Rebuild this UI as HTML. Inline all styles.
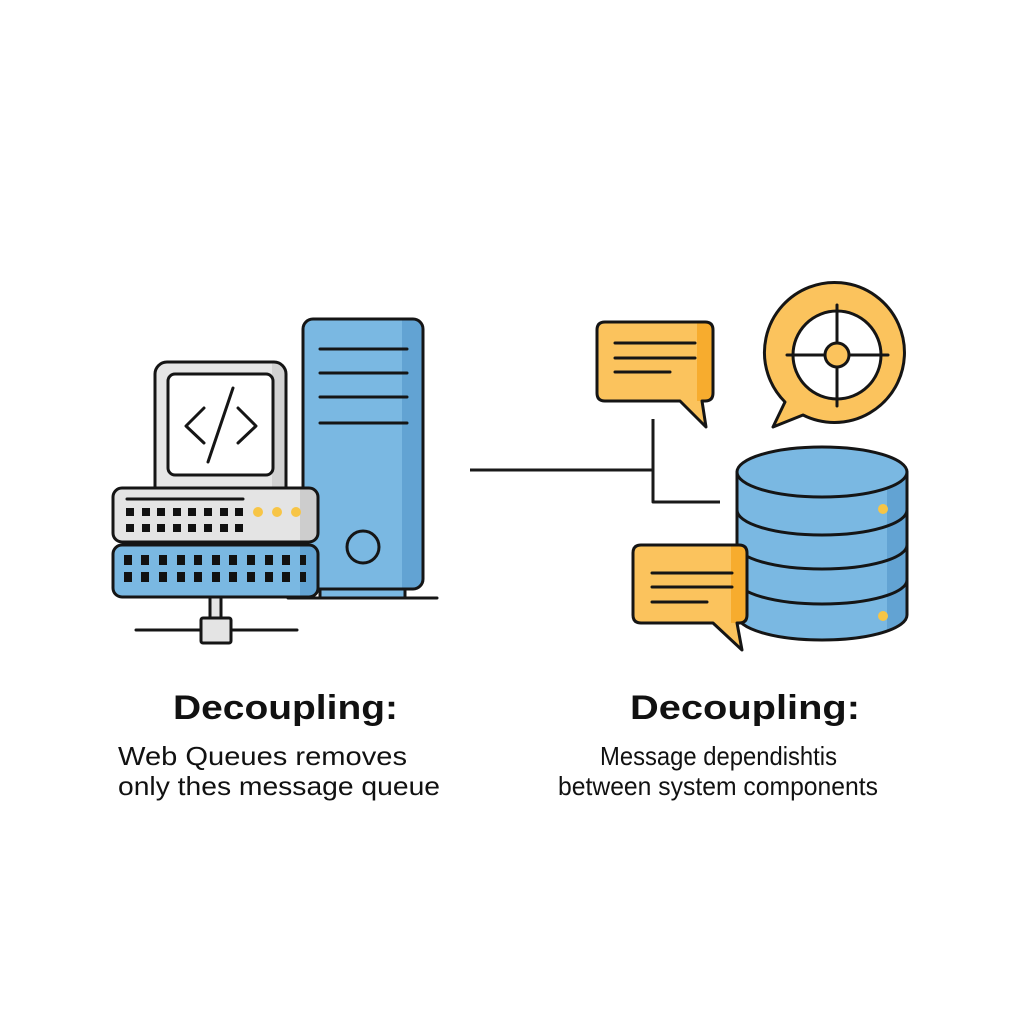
<!DOCTYPE html>
<html>
<head>
<meta charset="utf-8">
<style>
  html, body { margin: 0; padding: 0; background: #ffffff; }
  svg { display: block; }
  text { font-family: "Liberation Sans", Arial, sans-serif; fill: #111; }
</style>
</head>
<body>
<svg width="1024" height="1024" viewBox="0 0 1024 1024" xmlns="http://www.w3.org/2000/svg">
  <defs>
    <clipPath id="towerClip"><rect x="303" y="319" width="120" height="270" rx="10"/></clipPath>
    <clipPath id="srvLowClip"><rect x="113" y="545" width="205" height="52" rx="9"/></clipPath>
    <clipPath id="srvUpClip"><rect x="113" y="488" width="205" height="54" rx="9"/></clipPath>
    <clipPath id="monClip"><rect x="155" y="362" width="131" height="140" rx="12"/></clipPath>
    <clipPath id="dbClip"><path d="M737,472 V615 A85,25 0 0 0 907,615 V472 Z"/></clipPath>
    <clipPath id="b1Clip"><rect x="597" y="322" width="116" height="79" rx="8"/></clipPath>
    <clipPath id="b2Clip"><rect x="633" y="545" width="114" height="78" rx="8"/></clipPath>
  </defs>

  <g stroke="#151515" stroke-width="3" stroke-linejoin="round" stroke-linecap="round">
    <!-- ===== Tower ===== -->
    <rect x="320" y="586" width="85" height="12" fill="#7ab8e2"/>
    <line x1="288" y1="598" x2="437" y2="598"/>
    <rect x="303" y="319" width="120" height="270" rx="10" fill="#7ab8e2" stroke="none"/>
    <rect x="402" y="319" width="21" height="270" fill="#62a3d3" stroke="none" clip-path="url(#towerClip)"/>
    <rect x="303" y="319" width="120" height="270" rx="10" fill="none"/>
    <line x1="320" y1="349" x2="407" y2="349"/>
    <line x1="320" y1="373" x2="407" y2="373"/>
    <line x1="320" y1="397" x2="407" y2="397"/>
    <line x1="320" y1="423" x2="407" y2="423"/>
    <circle cx="363" cy="547" r="16" fill="#7ab8e2"/>

    <!-- ===== Monitor ===== -->
    <rect x="155" y="362" width="131" height="140" rx="12" fill="#e6e6e6" stroke="none"/>
    <rect x="272" y="362" width="14" height="140" fill="#d2d2d2" stroke="none" clip-path="url(#monClip)"/>
    <rect x="155" y="362" width="131" height="140" rx="12" fill="none"/>
    <rect x="168" y="374" width="105" height="101" rx="7" fill="#ffffff"/>
    <polyline points="204,408 186,426 204,443" fill="none"/>
    <line x1="233" y1="388" x2="208" y2="462"/>
    <polyline points="238,408 256,426 238,443" fill="none"/>

    <!-- ===== Server upper unit ===== -->
    <rect x="113" y="488" width="205" height="54" rx="9" fill="#e4e4e4" stroke="none"/>
    <rect x="300" y="488" width="18" height="54" fill="#cdcdcd" stroke="none" clip-path="url(#srvUpClip)"/>
    <rect x="113" y="488" width="205" height="54" rx="9" fill="none"/>
    <line x1="127" y1="499" x2="243" y2="499"/>
  </g>

  <!-- upper squares -->
  <g fill="#111">
    <rect x="126" y="508" width="8" height="8"/><rect x="142" y="508" width="8" height="8"/>
    <rect x="157" y="508" width="8" height="8"/><rect x="173" y="508" width="8" height="8"/>
    <rect x="188" y="508" width="8" height="8"/><rect x="204" y="508" width="8" height="8"/>
    <rect x="220" y="508" width="8" height="8"/><rect x="235" y="508" width="8" height="8"/>
    <rect x="126" y="524" width="8" height="8"/><rect x="142" y="524" width="8" height="8"/>
    <rect x="157" y="524" width="8" height="8"/><rect x="173" y="524" width="8" height="8"/>
    <rect x="188" y="524" width="8" height="8"/><rect x="204" y="524" width="8" height="8"/>
    <rect x="220" y="524" width="8" height="8"/><rect x="235" y="524" width="8" height="8"/>
  </g>
  <g fill="#f7c546">
    <circle cx="258" cy="512" r="5"/><circle cx="277" cy="512" r="5"/><circle cx="296" cy="512" r="5"/>
  </g>

  <g stroke="#151515" stroke-width="3" stroke-linejoin="round" stroke-linecap="round">
    <!-- ===== Server lower unit ===== -->
    <rect x="113" y="545" width="205" height="52" rx="9" fill="#7ab8e2" stroke="none"/>
    <rect x="300" y="545" width="18" height="52" fill="#62a3d3" stroke="none" clip-path="url(#srvLowClip)"/>
  </g>
  <g fill="#111" clip-path="url(#srvLowClip)">
    <rect x="124" y="555" width="8" height="10"/><rect x="141" y="555" width="8" height="10"/>
    <rect x="159" y="555" width="8" height="10"/><rect x="177" y="555" width="8" height="10"/>
    <rect x="194" y="555" width="8" height="10"/><rect x="212" y="555" width="8" height="10"/>
    <rect x="229" y="555" width="8" height="10"/><rect x="247" y="555" width="8" height="10"/>
    <rect x="265" y="555" width="8" height="10"/><rect x="282" y="555" width="8" height="10"/>
    <rect x="300" y="555" width="6" height="10"/>
    <rect x="124" y="572" width="8" height="10"/><rect x="141" y="572" width="8" height="10"/>
    <rect x="159" y="572" width="8" height="10"/><rect x="177" y="572" width="8" height="10"/>
    <rect x="194" y="572" width="8" height="10"/><rect x="212" y="572" width="8" height="10"/>
    <rect x="229" y="572" width="8" height="10"/><rect x="247" y="572" width="8" height="10"/>
    <rect x="265" y="572" width="8" height="10"/><rect x="282" y="572" width="8" height="10"/>
    <rect x="300" y="572" width="6" height="10"/>
  </g>
  <g stroke="#151515" stroke-width="3" stroke-linejoin="round" stroke-linecap="round">
    <rect x="113" y="545" width="205" height="52" rx="9" fill="none"/>
    <!-- stem & network -->
    <line x1="136" y1="630" x2="297" y2="630"/>
    <rect x="210" y="597" width="11" height="21" fill="#e4e4e4"/>
    <rect x="201" y="618" width="30" height="25" rx="2" fill="#e4e4e4"/>

    <!-- ===== Connectors ===== -->
    <line x1="470" y1="470" x2="653" y2="470" stroke="#1a1a1a" stroke-linecap="butt"/>
    <polyline points="653,419 653,502 720,502" fill="none" stroke="#1a1a1a" stroke-linecap="butt"/>

    <!-- ===== Database ===== -->
    <path d="M737,472 V615 A85,25 0 0 0 907,615 V472 Z" fill="#7ab8e2" stroke="none"/>
    <rect x="887" y="460" width="22" height="190" fill="#62a3d3" stroke="none" clip-path="url(#dbClip)"/>
    <path d="M737,472 V615 A85,25 0 0 0 907,615 V472" fill="none"/>
    <ellipse cx="822" cy="472" rx="85" ry="25" fill="#7ab8e2"/>
    <path d="M737,510 A85,25 0 0 0 907,510" fill="none"/>
    <path d="M737,545 A85,24 0 0 0 907,545" fill="none"/>
    <path d="M737,580 A85,24 0 0 0 907,580" fill="none"/>
  </g>
  <circle cx="883" cy="509" r="5" fill="#f7c546"/>
  <circle cx="883" cy="616" r="5" fill="#f7c546"/>

  <g stroke="#151515" stroke-width="3" stroke-linejoin="round" stroke-linecap="round">
    <!-- ===== Speech bubble 1 ===== -->
    <path d="M605,322 H705 Q713,322 713,330 V393 Q713,401 705,401 H702 L706,427 L680,401 H605 Q597,401 597,393 V330 Q597,322 605,322 Z" fill="#fbc35d" stroke="none"/>
    <rect x="697" y="322" width="16" height="79" fill="#f7ac2e" stroke="none" clip-path="url(#b1Clip)"/>
    <path d="M605,322 H705 Q713,322 713,330 V393 Q713,401 705,401 H702 L706,427 L680,401 H605 Q597,401 597,393 V330 Q597,322 605,322 Z" fill="none"/>
    <line x1="615" y1="343" x2="695" y2="343"/>
    <line x1="615" y1="358" x2="695" y2="358"/>
    <line x1="615" y1="372" x2="670" y2="372"/>

    <!-- ===== Target bubble ===== -->
    <path d="M785,402 L773,427 L803,415 A70,70 0 1 0 785,402 Z" fill="#fbc35d"/>
    <circle cx="837" cy="355" r="44" fill="#ffffff"/>
    <line x1="787" y1="355" x2="888" y2="355"/>
    <line x1="837" y1="305" x2="837" y2="406"/>
    <circle cx="837" cy="355" r="12" fill="#fbc35d"/>

    <!-- ===== Speech bubble 2 ===== -->
    <path d="M641,545 H739 Q747,545 747,553 V615 Q747,623 739,623 H737 L742,650 L713,623 H641 Q633,623 633,615 V553 Q633,545 641,545 Z" fill="#fbc35d" stroke="none"/>
    <rect x="731" y="545" width="16" height="78" fill="#f7ac2e" stroke="none" clip-path="url(#b2Clip)"/>
    <path d="M641,545 H739 Q747,545 747,553 V615 Q747,623 739,623 H737 L742,650 L713,623 H641 Q633,623 633,615 V553 Q633,545 641,545 Z" fill="none"/>
    <line x1="652" y1="573" x2="732" y2="573"/>
    <line x1="652" y1="587" x2="732" y2="587"/>
    <line x1="652" y1="602" x2="707" y2="602"/>
  </g>

  <!-- ===== Text ===== -->
  <text x="173" y="719" font-size="34" font-weight="bold" textLength="225" lengthAdjust="spacingAndGlyphs">Decoupling:</text>
  <text x="118" y="765" font-size="26" textLength="289" lengthAdjust="spacingAndGlyphs">Web Queues removes</text>
  <text x="118" y="795" font-size="26" textLength="322" lengthAdjust="spacingAndGlyphs">only thes message queue</text>

  <text x="630" y="719" font-size="34" font-weight="bold" textLength="230" lengthAdjust="spacingAndGlyphs">Decoupling:</text>
  <text x="600" y="765" font-size="26" textLength="237" lengthAdjust="spacingAndGlyphs">Message dependishtis</text>
  <text x="558" y="795" font-size="26" textLength="320" lengthAdjust="spacingAndGlyphs">between system components</text>
</svg>
</body>
</html>
